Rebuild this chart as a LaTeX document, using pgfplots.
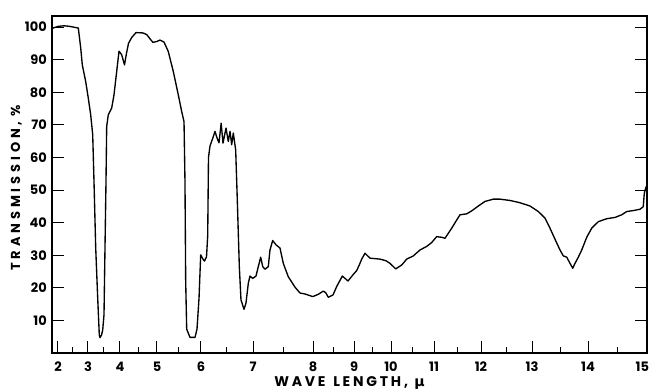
\documentclass[border=0pt]{standalone}
\usepackage{fontspec}
\setmainfont{Poppins}
\newfontfamily\greekfont{DejaVu Sans}
\usepackage{pgfplots}
\pgfplotsset{compat=1.18}
\begin{document}
\begin{tikzpicture}
\begin{axis}[
  scale only axis,
  width=595pt, height=337pt,
  xmin=1.8, xmax=15, ymin=0, ymax=103.4,
  x coord trafo/.code={\pgfmathparse{(#1<3) ? (58+30*(#1-2)) : ((#1<4) ? (88+32*(#1-3)) : ((#1<5) ? (120+37*(#1-4)) : ((#1<6) ? (157+44*(#1-5)) : ((#1<7) ? (201+52*(#1-6)) : ((#1<8) ? (253+60*(#1-7)) : ((#1<9) ? (313+41*(#1-8)) : ((#1<10) ? (354+37*(#1-9)) : ((#1<11) ? (391+43*(#1-10)) : ((#1<12) ? (434+47*(#1-11)) : ((#1<13) ? (481+51*(#1-12)) : ((#1<14) ? (532+56*(#1-13)) : (588+59*(#1-14))))))))))))))}},
  xtick={2,3,4,5,6,7,8,9,10,11,12,13,14,15},
  xticklabels={2,3,4,5,6,7,8,9,10,11,12,13,14,\makebox[0pt][r]{15\hspace{-2pt}}},
  minor xtick={2.5,3.5,4.5,5.5,6.5,7.5,8.5,9.5,10.5,11.5,12.5,13.5,14.5},
  ytick={10,20,30,40,50,60,70,80,90,100},
  yticklabels={10,20,30,40,50,60,70,80,90,100},
  tick align=inside,
  xtick pos=left, ytick pos=both, yticklabel pos=left,
  major tick length=12pt,
  minor tick length=6pt,
  tick style={black, line width=1pt},
  axis line style={black, line width=1.1pt},
  ticklabel style={font=\bfseries\fontsize{13}{13}\selectfont, inner sep=0pt},
  xticklabel style={yshift=-9pt},
  yticklabel style={xshift=-5pt},
  every axis y label/.style={at={(axis description cs:-0.0504,0.49)}, rotate=90, anchor=south, inner sep=0pt},
  every axis x label/.style={at={(axis description cs:0.5,-0.0682)}, anchor=north, inner sep=0pt},
  ylabel={\bfseries\fontsize{13}{13}\selectfont\addfontfeature{LetterSpace=30}TRANSMISSION,\hspace{0.4em}\%},
  xlabel={\bfseries\fontsize{14}{14}\selectfont\addfontfeature{LetterSpace=20}WAVE\hspace{0.55em}LENGTH,\hspace{0.45em}{\greekfont\bfseries μ}},
  clip=true,
]
\coordinate (bl) at (rel axis cs:0,0);
\coordinate (tr) at (rel axis cs:1,1);
\addplot[black, line width=1.35pt, line join=round] table[row sep=\\] {
x y\\
1.80 99.6\\ 2.00 100.2\\ 2.20 100.4\\ 2.40 100.2\\ 2.677 99.7\\ 2.757 93.6\\ 2.81 88.4\\ 2.923 83.3\\
3.009 78.2\\ 3.084 73.1\\ 3.147 67\\ 3.1875 52.6\\ 3.241 32.2\\ 3.303 16.9\\ 3.353 5.5\\ 3.375 4.7\\
3.422 5.5\\ 3.459 7\\ 3.5 11.7\\ 3.531 32.2\\ 3.5625 52.6\\ 3.584 69.5\\ 3.634 73.1\\ 3.741 75.2\\
3.8125 79.2\\ 3.897 86.4\\ 3.969 92.6\\ 4.046 91.5\\ 4.122 88.4\\ 4.176 92\\ 4.23 95\\ 4.316 96.8\\
4.432 98.3\\ 4.622 98.2\\ 4.722 97.7\\ 4.838 96.0\\ 4.892 95.3\\ 5.00 95.6\\ 5.068 96.0\\ 5.159 95.4\\
5.257 92.5\\ 5.370 86.4\\ 5.484 79.2\\ 5.561 74.1\\ 5.614 71\\ 5.636 52.6\\ 5.652 21.9\\ 5.675 7.3\\
5.75 4.8\\ 5.864 4.8\\ 5.909 7.3\\ 5.955 16.8\\ 5.993 30.1\\ 6.038 28.8\\ 6.067 28.2\\ 6.106 29.5\\
6.129 36\\ 6.144 60\\ 6.173 63.5\\ 6.237 66.4\\ 6.269 68\\ 6.308 66\\ 6.346 64.5\\ 6.388 70.5\\
6.423 64.4\\ 6.481 69\\ 6.525 64.9\\ 6.558 68\\ 6.590 63.9\\ 6.621 67.5\\ 6.667 62.3\\ 6.698 47\\
6.737 26.5\\ 6.769 16.3\\ 6.827 13.4\\ 6.865 15.3\\ 6.910 21.4\\ 6.942 23.6\\ 6.994 22.9\\ 7.05 23.6\\
7.088 26.5\\ 7.128 29.4\\ 7.162 26.5\\ 7.20 25.7\\ 7.255 26.5\\ 7.283 31.6\\ 7.328 34.5\\ 7.383 33.2\\
7.45 32.2\\ 7.505 27.5\\ 7.588 23.4\\ 7.70 20.2\\ 7.783 18.4\\ 7.867 18.1\\ 7.995 17.3\\ 8.129 18\\
8.251 19\\ 8.310 18.5\\ 8.373 17.1\\ 8.488 17.8\\ 8.578 20.4\\ 8.715 23.6\\ 8.780 22.9\\ 8.854 22.1\\
8.976 24\\ 9.073 25.3\\ 9.143 27\\ 9.208 28.8\\ 9.297 30.6\\ 9.432 29.1\\ 9.703 28.8\\ 9.865 28.3\\
9.973 27.5\\ 10.109 25.8\\ 10.249 27\\ 10.365 28.8\\ 10.519 29.8\\ 10.674 31.6\\ 10.830 32.7\\ 10.947 33.9\\
11.057 35.7\\ 11.164 35.5\\ 11.234 35.2\\ 11.377 38.3\\ 11.483 40.8\\ 11.553 42.4\\ 11.696 42.7\\ 11.802 43.6\\
11.943 45.1\\ 12.078 46.5\\ 12.241 47.2\\ 12.373 47.2\\ 12.569 46.8\\ 12.765 46.1\\ 12.961 45.1\\ 13.1125 43.4\\
13.232 41.4\\ 13.321 38.3\\ 13.411 34.9\\ 13.5 31.6\\ 13.559 29.8\\ 13.620 29.4\\ 13.679 27.5\\ 13.727 26\\
13.768 27.5\\ 13.827 29.4\\ 13.888 31.6\\ 13.977 35.5\\ 14.063 38.3\\ 14.175 40.3\\ 14.317 41.2\\ 14.458 41.6\\
14.571 42.4\\ 14.656 43.4\\ 14.768 43.7\\ 14.881 44.1\\ 14.937 44.9\\ 14.954 49\\ 14.983 50.9\\ 15.0 51.2\\
};
\end{axis}
\pgfresetboundingbox
\useasboundingbox ([shift={(-52pt,-37pt)}]bl) rectangle ([shift={(2pt,16pt)}]tr);
\end{tikzpicture}
\end{document}
